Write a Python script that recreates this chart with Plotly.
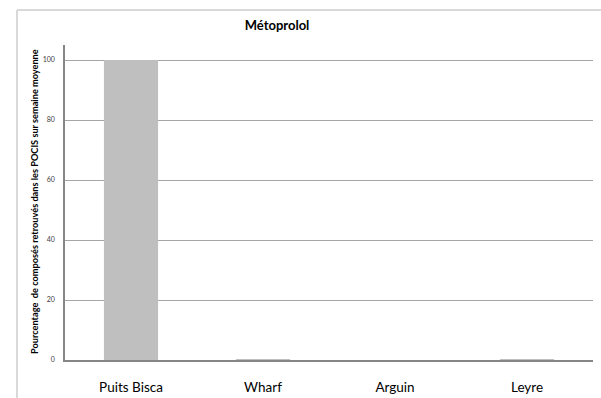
import plotly.graph_objects as go

# Sites and share of compound recovered (%)
sites = ["Puits Bisca", "Wharf", "Arguin", "Leyre"]
pourcentages = [100.0, 0.3, 0.0, 0.3]
y_ticks = [0, 20, 40, 60, 80, 100]

W, H = 601, 398
L, R, T, B = 65, 8, 45, 38
plot_w = W - L - R
plot_h = H - T - B

fig = go.Figure(
    go.Bar(
        x=sites,
        y=pourcentages,
        marker=dict(color="#bfbfbf", line=dict(width=0)),
        width=0.41,
    )
)

# outer chart frame: left and top edges, the rest runs off the page
fx0 = (17 - L) / plot_w
fy1 = (H - B - 10) / plot_h
frame = dict(color="#d9d9d9", width=2)
fig.add_shape(type="line", xref="paper", yref="paper",
              x0=fx0, x1=fx0, y0=-B / plot_h, y1=fy1, line=frame, layer="below")
fig.add_shape(type="line", xref="paper", yref="paper",
              x0=fx0, x1=1 + R / plot_w, y0=fy1, y1=fy1, line=frame, layer="below")

fig.add_annotation(
    text="Pourcentage  de composés retrouvés dans les POCIS sur semaine moyenne",
    xref="paper", yref="paper",
    x=(34 - L) / plot_w, y=(H - B - 202) / plot_h,
    xanchor="center", yanchor="middle",
    textangle=-90, showarrow=False,
    font=dict(family="Lato", size=9.2, color="#000000", weight="bold"),
)

fig.update_layout(
    width=W, height=H,
    margin=dict(l=L, r=R, t=T, b=B, autoexpand=False),
    paper_bgcolor="white", plot_bgcolor="white",
    showlegend=False,
    title=dict(text="<b>Métoprolol</b>", x=277 / W, xref="container",
               y=1 - 25 / H, yref="container", xanchor="center", yanchor="middle",
               font=dict(family="Lato", size=13, color="#000000")),
    font=dict(family="Lato"),
)

fig.update_xaxes(
    automargin=False,
    showline=True, linecolor="#868686", linewidth=1.5,
    showgrid=False, ticks="", ticklabelstandoff=14,
    tickfont=dict(family="Lato", size=13.5, color="#000000"),
)
fig.update_yaxes(
    automargin=False,
    range=[0, 105], tickvals=y_ticks,
    showline=True, linecolor="#868686", linewidth=1.5,
    showgrid=True, gridcolor="#a6a6a6", gridwidth=1,
    zeroline=False, ticks="", ticklabelstandoff=7,
    tickfont=dict(family="Lato", size=7, color="#404040"),
)

fig.write_html("out.html")
